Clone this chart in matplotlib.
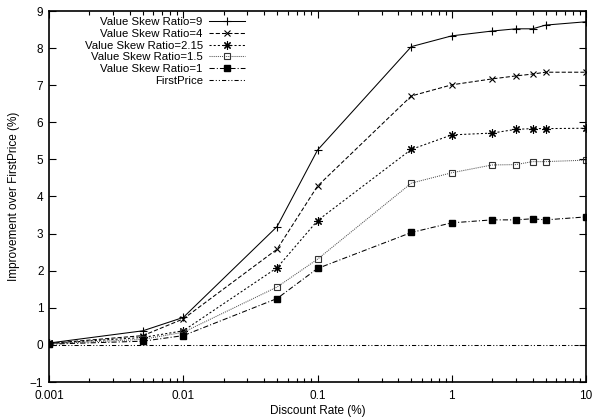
import matplotlib
matplotlib.use("Agg")
import matplotlib.pyplot as plt
from matplotlib.ticker import LogLocator, NullFormatter, FixedLocator

plt.rcParams['font.family'] = ['Liberation Sans', 'DejaVu Sans']

# discount rates (%)
discount = [0.001, 0.005, 0.01, 0.05, 0.1, 0.5, 1, 2, 3, 4, 5, 10]

ratio_9 = [0.05, 0.38, 0.74, 3.19, 5.25, 8.04, 8.33, 8.46, 8.52, 8.52, 8.62, 8.71]
ratio_4 = [0.04, 0.25, 0.70, 2.58, 4.28, 6.71, 7.01, 7.17, 7.25, 7.30, 7.35, 7.35]
ratio_215 = [0.04, 0.20, 0.38, 2.08, 3.35, 5.27, 5.66, 5.71, 5.81, 5.83, 5.83, 5.84]
ratio_15 = [0.03, 0.15, 0.34, 1.56, 2.31, 4.36, 4.64, 4.85, 4.86, 4.94, 4.94, 4.98]
ratio_1 = [0.02, 0.10, 0.25, 1.25, 2.06, 3.03, 3.29, 3.37, 3.37, 3.40, 3.37, 3.45]
first_price = [0] * len(discount)

fig = plt.figure(figsize=(5.93, 4.19), dpi=100)
ax = fig.add_axes([49 / 593, 1 - 382 / 419, 537 / 593, 371 / 419])

lw = 0.75
ax.plot(discount, ratio_9, color='black', lw=lw, ls='-', marker='+', ms=6, mew=0.8,
        label='Value Skew Ratio=9')
ax.plot(discount, ratio_4, color='black', lw=lw, ls=(0, (4, 2)), marker='x', ms=5, mew=0.8,
        label='Value Skew Ratio=4')
ax.plot(discount, ratio_215, color='black', lw=lw, ls=(0, (2, 2)), marker=(8, 2, 0), ms=6, mew=0.8,
        label='Value Skew Ratio=2.15')
ax.plot(discount, ratio_15, color='#555555', lw=lw, ls=(0, (1, 1)), marker='s', ms=5,
        mfc='none', mec='#333333', mew=0.8, label='Value Skew Ratio=1.5')
ax.plot(discount, ratio_1, color='black', lw=lw, ls=(0, (5, 2, 1, 2)), marker='s', ms=5,
        mfc='black', mec='black', label='Value Skew Ratio=1')
ax.plot(discount, first_price, color='black', lw=lw, ls=(0, (4, 2, 1, 2, 1, 2)),
        label='FirstPrice')

ax.set_xscale('log')
ax.set_xlim(0.001, 10)
ax.set_ylim(-1, 9)
ax.xaxis.set_major_locator(FixedLocator([0.001, 0.01, 0.1, 1, 10]))
ax.set_xticklabels(['0.001', '0.01', '0.1', '1', '10'])
ax.xaxis.set_minor_locator(LogLocator(base=10, subs=range(2, 10)))
ax.xaxis.set_minor_formatter(NullFormatter())
ax.set_yticks(range(-1, 10))

ax.tick_params(which='both', direction='in', top=True, right=True, labelsize=8.5, pad=4)
ax.tick_params(axis='x', pad=6)
ax.tick_params(which='major', length=5, width=0.8)
ax.tick_params(which='minor', length=3, width=0.8)
for s in ax.spines.values():
    s.set_linewidth(1.2)

ax.set_xlabel('Discount Rate (%)', fontsize=8.5, labelpad=2)
ax.set_ylabel('Improvement over FirstPrice (%)', fontsize=8.5, labelpad=7)

ax.legend(loc='upper right', bbox_to_anchor=(245 / 593, 1 - 17 / 419),
          bbox_transform=fig.transFigure, markerfirst=False, frameon=False,
          fontsize=8.2, handlelength=3.2, handletextpad=0.5, labelspacing=0.16,
          borderpad=0, borderaxespad=0)

fig.savefig('out.png', dpi=100)
